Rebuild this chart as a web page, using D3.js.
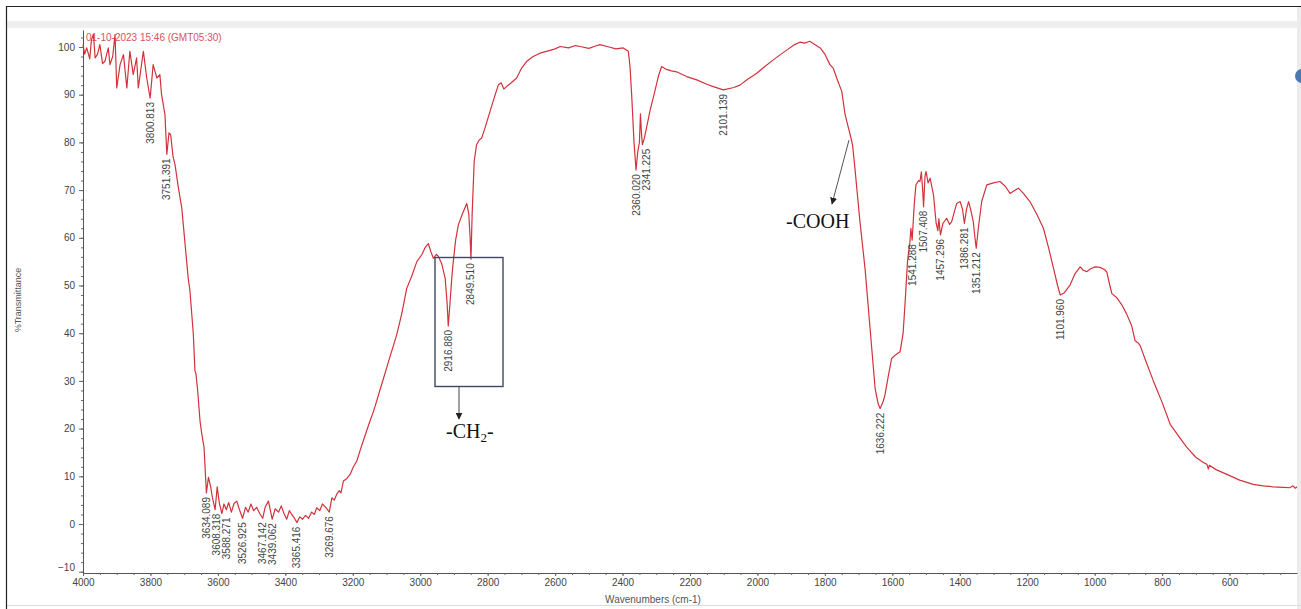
<!DOCTYPE html>
<html>
<head>
<meta charset="utf-8">
<script src="https://cdn.jsdelivr.net/npm/d3@7"></script>
<style>
  html, body { margin: 0; padding: 0; background: #fff; }
  svg { display: block; }
</style>
</head>
<body>
<svg id="chart"></svg>
<script>
// spectrum (cm-1, %T)
const wavenumbers = [
  4000, 3995, 3989, 3980, 3975, 3969, 3964, 3957, 3950, 3942, 3935, 3925, 3920, 3912, 3905, 3900,
  3890, 3880, 3870, 3861, 3851, 3841, 3836, 3821, 3811, 3800.8, 3792, 3781, 3772, 3767, 3757, 3751.4,
  3745, 3740, 3733, 3727, 3717, 3707, 3698, 3688, 3683, 3673, 3668, 3665, 3660, 3653, 3648, 3641,
  3634.1, 3628, 3622, 3616, 3608.3, 3602, 3596, 3588.3, 3582, 3575, 3568, 3560, 3552, 3544, 3536, 3526.9,
  3518, 3510, 3502, 3494, 3485, 3476, 3467.1, 3460, 3450, 3439.1, 3430, 3420, 3412, 3404, 3396, 3388,
  3381, 3373, 3365.4, 3357, 3349, 3340, 3331, 3322, 3314, 3307, 3298, 3290, 3280, 3269.7, 3262, 3255,
  3248, 3240, 3235, 3228, 3218, 3208, 3198, 3188, 3178, 3169, 3159, 3149, 3139, 3129, 3119, 3109,
  3090, 3070, 3055, 3040, 3025, 3010, 2995, 2985, 2976, 2968, 2961, 2952, 2946, 2936, 2926, 2920,
  2916.9, 2912, 2906, 2902, 2895, 2887, 2875, 2862, 2856, 2852, 2849.5, 2846, 2840, 2833, 2825, 2818,
  2808, 2793, 2780, 2768, 2760, 2752, 2744, 2730, 2714, 2700, 2684, 2665, 2645, 2620, 2600, 2585,
  2560, 2540, 2526, 2500, 2480, 2467, 2440, 2420, 2398, 2383, 2378, 2373, 2366, 2360.0, 2355, 2350,
  2347, 2344, 2341.2, 2335, 2318, 2305, 2294, 2284, 2270, 2255, 2240, 2210, 2180, 2150, 2131, 2101.1,
  2070, 2052, 2030, 2002, 1980, 1953, 1930, 1910, 1890, 1874, 1860, 1845, 1830, 1814, 1800, 1785,
  1775, 1765, 1750, 1740, 1730, 1725, 1718, 1711, 1696, 1681, 1666, 1651, 1642, 1636.2, 1628, 1622,
  1612, 1602, 1590, 1577, 1568, 1562, 1555, 1548, 1545, 1541.3, 1535, 1530, 1522, 1518, 1514, 1510,
  1507.4, 1503, 1500, 1494, 1488, 1478, 1470, 1465, 1462, 1457.3, 1450, 1439, 1430, 1424, 1416, 1409,
  1399, 1392, 1386.3, 1380, 1374, 1368, 1360, 1355, 1351.2, 1345, 1335, 1320, 1300, 1281, 1265, 1251,
  1240, 1226, 1210, 1192, 1172, 1152, 1137, 1122, 1110, 1102, 1090, 1073, 1058, 1043, 1034, 1024,
  1012, 999, 984, 970, 964, 955, 949, 935, 920, 905, 890, 880, 872, 865, 850, 826,
  800, 776, 750, 726, 700, 680, 667, 663, 660, 640, 608, 570, 530, 500, 471, 440,
  421, 412, 405, 400
];
const transmittance = [
  100.5, 98.5, 99.8, 97.5, 101.5, 102.6, 97.7, 98.5, 100.5, 96.5, 97, 99.8, 96.3, 98, 102.6, 91.4,
  96.3, 98.4, 91.4, 99.1, 94.2, 97.7, 91.4, 99.1, 93.5, 89.3, 96.3, 93.5, 94.2, 90, 85.8, 77.5,
  82, 81.6, 77, 75.3, 70.4, 66.2, 59.2, 51.5, 49, 40, 32.1, 31.5, 28, 21.6, 19, 16,
  6.5, 9.8, 8, 5.5, 3.0, 7.8, 4.5, 2.2, 4.2, 3, 4.5, 2.5, 4.3, 4.8, 3, 1.2,
  3.5, 2.5, 4.2, 2.8, 3.5, 2.2, 1.2, 3.5, 4.8, 1.0, 3.2, 2.5, 3.8, 2.2, 1.0, 2.8,
  2.0, 1.2, 0.3, 1.5, 1.0, 1.8, 1.2, 2.5, 2.0, 3.4, 2.8, 4.2, 3.5, 2.5, 5.5, 5,
  6.2, 7, 6.5, 9, 9.5, 10.4, 12, 13.2, 15.5, 17.4, 19.5, 21.6, 23.5, 25.8, 28.2, 30.5,
  35, 39.6, 44, 49.4, 52, 55, 56.5, 58, 58.8, 57, 55.7, 56.5, 56.1, 54.5, 51.5, 46,
  41.5, 46, 52, 55, 59.5, 62.7, 65, 67.2, 65, 60, 55.5, 65, 76, 79.5, 80.5, 80.9,
  83, 86.5, 89.5, 92.1, 92.5, 91.2, 91.7, 92.5, 93.5, 95.5, 97, 98, 98.7, 99.2, 99.6, 100.1,
  99.8, 100.3, 100.1, 99.7, 100.2, 100.5, 100, 99.6, 99.8, 99.1, 96, 90, 80, 74.2, 78, 80,
  86, 82, 79.5, 81, 86.8, 90.5, 93.8, 95.9, 95.3, 95, 94.8, 93.8, 93.1, 92.2, 91.7, 91,
  91.5, 92, 93.2, 94.5, 95.8, 97.3, 98.5, 99.5, 100.5, 101, 100.8, 101.2, 100.5, 99.8, 98.5, 96.3,
  95.5, 93.5, 90.7, 85.8, 83, 81.6, 79.5, 74.6, 63.4, 53.6, 41, 28.4, 25.2, 24.2, 25.5, 27,
  31, 34.7, 35.5, 36.1, 40, 46.6, 55, 59, 62, 59.5, 67, 71.1, 72, 71.8, 73.8, 70,
  66.5, 73, 73.9, 71.5, 72.5, 69, 63, 61.5, 64, 60.6, 63, 64.1, 62.8, 63.4, 65.5, 67.2,
  67.6, 66, 63, 66, 67.6, 66, 63.4, 60, 57.8, 62, 67.6, 71.1, 71.5, 71.8, 70.8, 69.3,
  69.8, 70.4, 69.2, 67.6, 65, 62, 58, 53.6, 50, 48, 48.5, 50.1, 52.5, 53.9, 53.2, 52.9,
  53.5, 53.9, 53.8, 53.3, 52.8, 50, 48.3, 47.5, 46, 44, 41.5, 38.4, 38, 37.4, 34.5, 30,
  25.5, 20.9, 18.3, 16, 14, 13, 12.5, 11.5, 12.3, 11.4, 10.4, 9.2, 8.3, 8, 7.8, 7.7,
  7.6, 8, 7.5, 7.8
];

// peak labels printed by the instrument
const peakLabels = [
  "3800.813", "3751.391", "3634.089", "3608.318", "3588.271", "3526.925", "3467.142", "3439.062",
  "3365.416", "3269.676", "2916.880", "2849.510", "2360.020", "2341.225", "2101.139", "1636.222",
  "1541.288", "1507.408", "1457.296", "1386.281", "1351.212", "1101.960"
];

const xTicks = [4000, 3800, 3600, 3400, 3200, 3000, 2800, 2600, 2400, 2200, 2000, 1800, 1600, 1400, 1200, 1000, 800, 600];
const yTicks = [-10, 0, 10, 20, 30, 40, 50, 60, 70, 80, 90, 100];

const width = 1301, height = 609;
const margin = { left: 83, right: 4, top: 30, bottom: 36 };

const svg = d3.select('#chart').attr('width', width).attr('height', height);

// frame bits of the screenshot
svg.append('rect').attr('x', 6).attr('y', 21).attr('width', width - 6).attr('height', 7).attr('fill', '#efefef');
svg.append('rect').attr('x', 1297).attr('y', 6).attr('width', 4).attr('height', height).attr('fill', '#ececec');
svg.append('circle').attr('cx', 1302).attr('cy', 76).attr('r', 7).attr('fill', '#4a78b0');
svg.append('line').attr('x1', 6).attr('x2', width).attr('y1', 605.5).attr('y2', 605.5).attr('stroke', '#dcdcdc');
svg.append('path')
  .attr('d', `M6.5,${height} V6.5 H${width}`)
  .attr('fill', 'none').attr('stroke', '#222').attr('stroke-width', 1.2);

const x = d3.scaleLinear().domain([4000, 400]).range([margin.left, width - margin.right]);
const y = d3.scaleLinear().domain([-10.27, 103.56]).range([height - margin.bottom, margin.top]);

// axes
const xAxis = svg.append('g')
  .attr('transform', `translate(0, ${height - margin.bottom})`)
  .call(d3.axisBottom(x).tickValues(xTicks).tickFormat(d3.format('d')).tickSize(3).tickSizeOuter(0));
svg.append('g')
  .attr('transform', `translate(0, ${height - margin.bottom})`)
  .call(d3.axisBottom(x).tickValues(d3.range(4000, 400, -50)).tickFormat('').tickSize(2).tickSizeOuter(0))
  .select('.domain').remove();

const yAxis = svg.append('g')
  .attr('transform', `translate(${margin.left}, 0)`)
  .call(d3.axisLeft(y).tickValues(yTicks).tickSize(4).tickSizeOuter(0));
svg.append('g')
  .attr('transform', `translate(${margin.left}, 0)`)
  .call(d3.axisLeft(y).tickValues(d3.range(-10, 104, 2)).tickFormat('').tickSize(2).tickSizeOuter(0))
  .select('.domain').remove();

svg.selectAll('.domain').attr('stroke', '#555');
svg.selectAll('.tick line').attr('stroke', '#666');
svg.selectAll('.tick text')
  .attr('fill', '#444')
  .style('font-family', '"Liberation Sans", Arial, sans-serif')
  .style('font-size', '10px');
xAxis.selectAll('.tick text').attr('dy', '0.65em');
yAxis.selectAll('.tick text').attr('x', -8);
yAxis.selectAll('.tick').filter(d => d === -10).select('text').attr('dy', '-0.15em');

svg.append('text')
  .attr('transform', `translate(21, 300) rotate(-90)`)
  .attr('text-anchor', 'middle')
  .attr('fill', '#555')
  .style('font-family', '"Liberation Sans", Arial, sans-serif')
  .style('font-size', '9px')
  .text('%Transmittance');

svg.append('text')
  .attr('x', 653).attr('y', 603)
  .attr('text-anchor', 'middle')
  .attr('fill', '#555')
  .style('font-family', '"Liberation Sans", Arial, sans-serif')
  .style('font-size', '10px')
  .text('Wavenumbers (cm-1)');

// timestamp, sits under the trace
svg.append('text')
  .attr('x', 86).attr('y', 41)
  .attr('fill', '#d9525c')
  .style('font-family', '"Liberation Sans", Arial, sans-serif')
  .style('font-size', '10px')
  .text('01-10-2023 15:46 (GMT05:30)');

const data = wavenumbers.map((w, i) => ({ w, t: transmittance[i] }));

const line = d3.line()
  .x(d => x(d.w))
  .y(d => y(d.t));

svg.append('path')
  .datum(data)
  .attr('d', line)
  .attr('fill', 'none')
  .attr('stroke', '#d2323c')
  .attr('stroke-width', 1.2)
  .attr('stroke-linejoin', 'round');

// peak labels, hanging under each peak, read bottom to top
const tAt = w => {
  let best = data[0];
  data.forEach(d => { if (Math.abs(d.w - w) < Math.abs(best.w - w)) best = d; });
  return best.t;
};

// nudge labels that would sit on top of each other (like the instrument does)
const labelPos = peakLabels.map(d => ({ text: d, px: x(+d), py: y(tAt(+d)) + 4 }));
labelPos.sort((a, b) => a.px - b.px);
for (let i = 1; i < labelPos.length; i++) {
  const prev = labelPos[i - 1], cur = labelPos[i];
  const overlapY = Math.abs(cur.py - prev.py) < 40;
  if (overlapY && cur.px - prev.px < 10) cur.px = prev.px + 10;
}

svg.append('g')
  .selectAll('text')
  .data(labelPos)
  .enter()
  .append('text')
  .attr('transform', d => `translate(${d.px}, ${d.py}) rotate(-90)`)
  .attr('text-anchor', 'end')
  .attr('dy', '0.35em')
  .attr('fill', '#444')
  .style('font-family', '"Liberation Sans", Arial, sans-serif')
  .style('font-size', '10px')
  .text(d => d.text);

// annotations
const defs = svg.append('defs');
defs.append('marker')
  .attr('id', 'head')
  .attr('viewBox', '0 0 10 10')
  .attr('refX', 9).attr('refY', 5)
  .attr('markerWidth', 7).attr('markerHeight', 7)
  .attr('orient', 'auto')
  .append('path')
  .attr('d', 'M0,0 L10,5 L0,10 z')
  .attr('fill', '#222');

svg.append('rect')
  .attr('x', 435).attr('y', 257.5)
  .attr('width', 68).attr('height', 129)
  .attr('fill', 'none')
  .attr('stroke', '#3e4866')
  .attr('stroke-width', 1.4);

svg.append('line')
  .attr('x1', 459).attr('y1', 386.5).attr('x2', 459).attr('y2', 419)
  .attr('stroke', '#444').attr('stroke-width', 1)
  .attr('marker-end', 'url(#head)');

const ch2 = svg.append('text')
  .attr('x', 446).attr('y', 438)
  .attr('fill', '#111')
  .style('font-family', '"Liberation Serif", "Times New Roman", serif')
  .style('font-size', '20px');
ch2.append('tspan').text('-CH');
ch2.append('tspan').attr('dy', 4).style('font-size', '13px').text('2');
ch2.append('tspan').attr('dy', -4).text('-');

svg.append('line')
  .attr('x1', 849).attr('y1', 140).attr('x2', 832).attr('y2', 204)
  .attr('stroke', '#555').attr('stroke-width', 1)
  .attr('marker-end', 'url(#head)');

svg.append('text')
  .attr('x', 786).attr('y', 228)
  .attr('fill', '#111')
  .style('font-family', '"Liberation Serif", "Times New Roman", serif')
  .style('font-size', '20px')
  .text('-COOH');
</script>
</body>
</html>
